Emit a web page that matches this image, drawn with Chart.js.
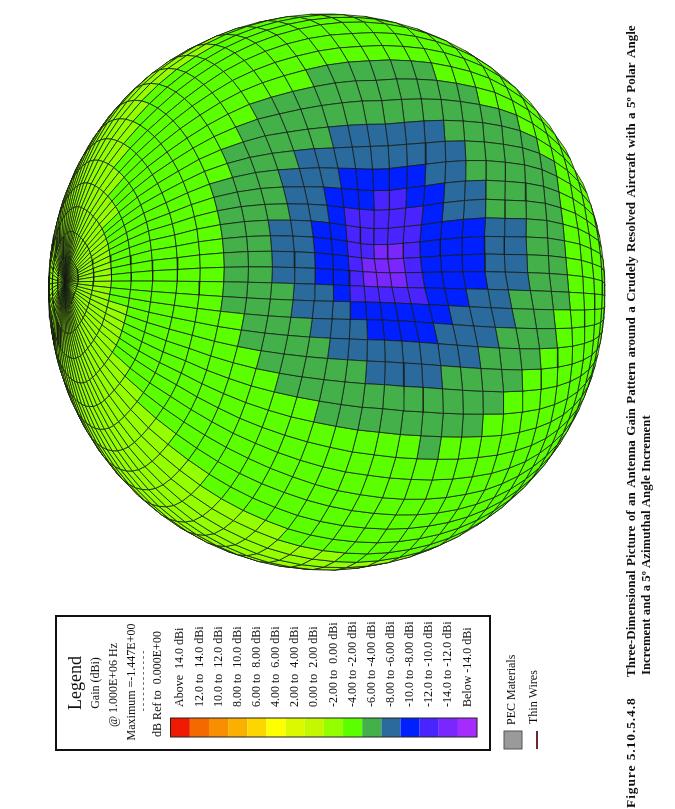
<!DOCTYPE html>
<html>
<head>
<meta charset="utf-8">
<script src="https://cdn.jsdelivr.net/npm/chart.js@4"></script>
<style>body{margin:0;background:#fff}canvas{display:block}</style>
</head>
<body>
<canvas id="gainChart" width="675" height="809"></canvas>
<script>
var bandLabels = ['Above  14.0 dBi','12.0 to  14.0 dBi','10.0 to  12.0 dBi','8.00 to  10.0 dBi','6.00 to  8.00 dBi','4.00 to  6.00 dBi','2.00 to  4.00 dBi','0.00 to  2.00 dBi','-2.00 to  0.00 dBi','-4.00 to -2.00 dBi','-6.00 to -4.00 dBi','-8.00 to -6.00 dBi','-10.0 to -8.00 dBi','-12.0 to -10.0 dBi','-14.0 to -12.0 dBi','Below -14.0 dBi'];
var bandColors = ['#f01a00','#f56a00','#f78f00','#f9b000','#fdd600','#ffff00','#dcf900','#c4f800','#93ff00','#5cff00','#43b04a','#2a6a9c','#0020ff','#4a24ff','#7a26ff','#a62bff'];
var bandGain = [15,13,11,9,7,5,3,1,-1,-3,-5,-7,-9,-11,-13,-15];
// gain band (hex index into bandColors) of each 5 deg cell, one string per meridian from -36, polar cells from the pole
var firstMeridian = -36;
var gainByMeridian = [
'8','8','8','8','8','8','8','8','8','8','8','8','8','8','8','8','88888888888889',
'88888888888889',
'8888888888889',
'888888889',
'88888889',
'8888889',
'888889',
'888889',
'88889999999999aaaaaa9',
'88889999999aaaaaaaaaaa9',
'8888999999aaaaaaaaaaaaaa9',
'888999999aaaaabbbbbbaaaaa9',
'888999999aaabbbbbbbbbaaaaa9',
'88899999aaabbbcccccbbaaaaa9',
'88899999aaabbcccddccbbaaaa9',
'88899999aaabbcdddddcbbaaaa9',
'88899999aabbccdddddcccbbaa9',
'88899999aabbccddeedcccbbaa9',
'88899999aabbccdeeedcccbbaa9',
'88899999aabbccdeeedcccbbaa9',
'88899999aaabbcdddddccbbaaa9',
'88899999aaabbbccccccbbbaa9',
'888999999aaabbbccccbbbaaa9',
'888899999aaaabbbbbbbbaaa9',
'8888999999aaaaabbbbaaaa9',
'88889999999aaaaaaaaaaa9',
'8888999999999aaaaaaaa9',
'888899999999999999a9',
'88889',
'888889',
'8888889',
'888888889',
'88888888889',
'888888888888889',
'888888888888888889',
'8888888888888888888889',
'888888888888888888888888889',
'8','8','8','8','8','8','8','8','8','8','8','8','8','8','8','8','8','8','8'
];
var legendTitle = ['Legend','Gain (dBi)','@ 1.000E+06 Hz','Maximum =-1.447E+00','dB Ref to  0.000E+00'];
var captionLines = ['Figure 5.10.5.4.8','Three-Dimensional Picture of an Antenna Gain Pattern around a Crudely Resolved Aircraft with a 5\u00ba Polar Angle','Increment and a 5\u00ba Azimuthal Angle Increment'];

var cx = 328, cy = 291, radius = 277;
var tilt = 63.5 * Math.PI / 180, phiZero = -2;
var swell = 0.066, dent = 0.05, gainRef = -3;

function bandAt(j, i) {
    var row = gainByMeridian[((j - firstMeridian) % 72 + 72) % 72];
    i = Math.max(i, 0);
    return parseInt(row[i] || row[row.length - 1], 16);
}
// surface radius follows the gain of the cells around a grid node, averaged so the wires stay smooth
function nodeRadius(j, i, z) {
    var g = 0;
    for (var a = -3; a < 3; a++) {
        for (var b = -3; b < 3; b++) {
            g += bandGain[bandAt(j + a, i + b)] / 36;
        }
    }
    g -= gainRef;
    return g > 0 ? 1 + swell * g * Math.max(z, 0) : 1 + dent * g;
}
function project(j, i) {
    var th = i * 5 * Math.PI / 180, ph = (j * 5 + phiZero) * Math.PI / 180;
    var p = [-Math.sin(tilt), -0.03, Math.cos(tilt)];
    var e1 = [Math.cos(tilt), 0.016, Math.sin(tilt)];
    var e2 = [-0.03, 1, 0];
    var d = [0, 1, 2].map(function(k) {
        return Math.cos(th) * p[k] + Math.sin(th) * (Math.cos(ph) * e1[k] + Math.sin(ph) * e2[k]);
    });
    var r = nodeRadius(j, i, d[2]);
    return { x: r * d[0], y: r * d[1], z: r * d[2] };
}

var cells = [];
for (var j = -36; j < 36; j++) {
    for (var i = 0; i < 36; i++) {
        var q = [project(j, i), project(j + 1, i), project(j + 1, i + 1), project(j, i + 1)];
        var z = (q[0].z + q[1].z + q[2].z + q[3].z) / 4;
        if (z < 0) continue;
        cells.push({ z: z, pts: [q[0], q[1], q[2], q[3], q[0]], band: bandAt(j, i) });
    }
}
// chart.js paints the first dataset last, so nearest cells go first
cells.sort(function(a, b) { return b.z - a.z; });

var datasets = cells.map(function(c) {
    return {
        data: c.pts.map(function(p) { return { x: p.x, y: p.y }; }),
        showLine: true,
        fill: 'shape',
        tension: 0,
        pointRadius: 0,
        borderWidth: 0.9,
        borderColor: 'rgba(20,25,20,0.85)',
        backgroundColor: bandColors[c.band]
    };
});

function upText(ctx, text, x, y, font, align) {
    ctx.save();
    ctx.translate(x, y);
    ctx.rotate(-Math.PI / 2);
    ctx.font = font;
    ctx.textAlign = align || 'left';
    ctx.textBaseline = 'middle';
    ctx.fillStyle = '#111';
    ctx.fillText(text, 0, 0);
    ctx.restore();
}

var pagePlugin = {
    id: 'page',
    afterDraw: function(chart) {
        var ctx = chart.ctx, serif = '"Liberation Serif"';
        // legend box
        ctx.strokeStyle = '#111'; ctx.lineWidth = 2;
        ctx.strokeRect(56, 616, 434, 134);
        upText(ctx, legendTitle[0], 76, 683, '18px ' + serif, 'center');
        upText(ctx, legendTitle[1], 96, 683, '12px ' + serif, 'center');
        upText(ctx, legendTitle[2], 114, 685, '12px ' + serif, 'center');
        upText(ctx, legendTitle[3], 132, 682, '12px ' + serif, 'center');
        upText(ctx, '- - - - - - - - - - - -', 144, 681, '9px ' + serif, 'center');
        upText(ctx, legendTitle[4], 158, 684, '12px ' + serif, 'center');
        bandLabels.forEach(function(label, k) {
            var x = 170.7 + 19.15 * k;
            ctx.fillStyle = bandColors[k];
            ctx.fillRect(x, 718, 19.15, 19);
            upText(ctx, label, x + 9.5, 707, '12px ' + serif);
        });
        ctx.strokeStyle = '#222'; ctx.lineWidth = 1;
        ctx.strokeRect(170.5, 718, 306.5, 19);
        // materials key
        ctx.fillStyle = '#9a9a9a'; ctx.fillRect(504, 731, 18, 18);
        ctx.strokeStyle = '#555'; ctx.strokeRect(504, 731, 18, 18);
        upText(ctx, 'PEC Materials', 512, 725, '12px ' + serif);
        upText(ctx, 'Thin Wires', 534, 724, '12px ' + serif);
        ctx.fillStyle = '#6a2a2a'; ctx.fillRect(536, 731, 2, 18);
        // caption
        ctx.letterSpacing = '0.9px';
        upText(ctx, captionLines[0], 632, 808, 'bold 13.5px ' + serif);
        ctx.letterSpacing = '0px';
        ctx.wordSpacing = '1.2px';
        upText(ctx, captionLines[1], 632, 677, 'bold 13px ' + serif);
        ctx.wordSpacing = '0px';
        upText(ctx, captionLines[2], 647, 675, 'bold 12.8px ' + serif);
    }
};

new Chart(document.getElementById('gainChart'), {
    type: 'scatter',
    data: { datasets: datasets },
    plugins: [pagePlugin],
    options: {
        responsive: false,
        animation: false,
        events: [],
        plugins: { legend: { display: false }, tooltip: { enabled: false } },
        scales: {
            x: { display: false, min: -cx / radius, max: (675 - cx) / radius },
            y: { display: false, reverse: true, min: -cy / radius, max: (809 - cy) / radius }
        }
    }
});
</script>
</body>
</html>
